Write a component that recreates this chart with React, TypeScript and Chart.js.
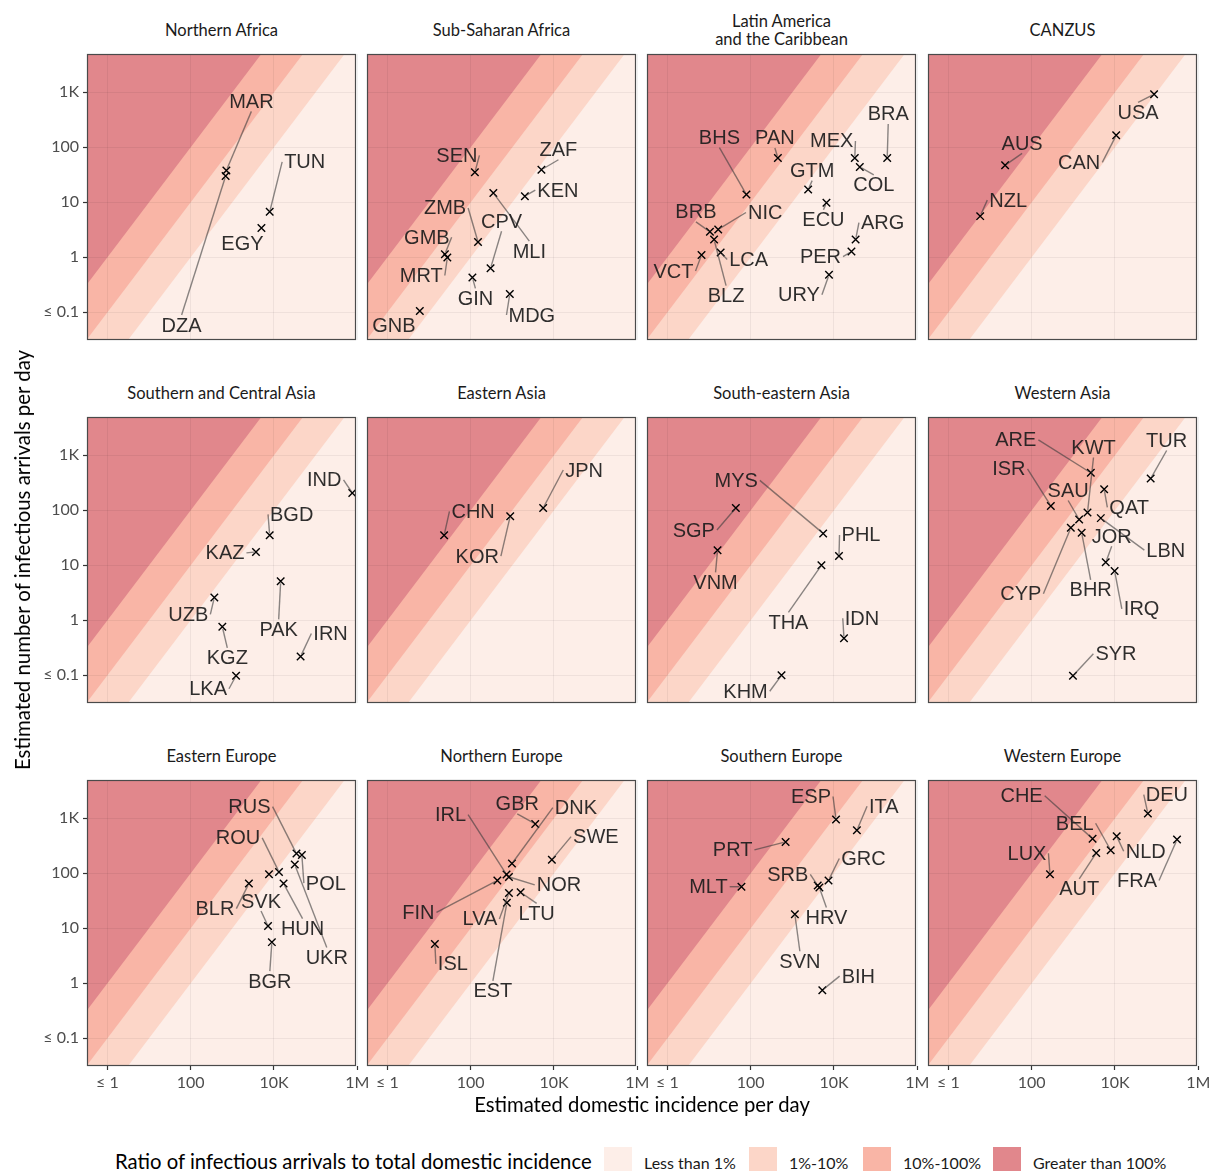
import React, { useEffect, useRef } from 'react';
import { Chart, registerables } from 'chart.js';

Chart.register(...registerables);

// ---------- data ----------
const regionTitles = [
  'Northern Africa', 'Sub-Saharan Africa', 'Latin America\nand the Caribbean', 'CANZUS',
  'Southern and Central Asia', 'Eastern Asia', 'South-eastern Asia', 'Western Asia',
  'Eastern Europe', 'Northern Europe', 'Southern Europe', 'Western Europe',
];

const nafCodes = ['MAR', 'DZA', 'TUN', 'EGY'];
const nafIncidence = [720, 690, 7900, 5000];
const nafArrivals = [38, 30, 6.7, 3.4];

const ssaCodes = ['SEN', 'ZAF', 'KEN', 'MLI', 'CPV', 'ZMB', 'GMB', 'MRT', 'GIN', 'MDG', 'GNB'];
const ssaIncidence = [126, 5000, 2000, 350, 300, 150, 24, 27.5, 110, 870, 6];
const ssaArrivals = [35, 39, 12.9, 14.7, 0.63, 1.9, 1.14, 0.99, 0.43, 0.215, 0.105];

const lacCodes = ['BRA', 'PAN', 'MEX', 'COL', 'GTM', 'BHS', 'ECU', 'ARG', 'PER', 'URY', 'BRB', 'NIC', 'BLZ', 'LCA', 'VCT'];
const lacIncidence = [190000, 450, 31600, 41700, 2400, 79, 6600, 33100, 26300, 7600, 10.5, 16.6, 13.2, 19, 6.6];
const lacArrivals = [64, 64, 64, 44, 17, 13.8, 9.8, 2.1, 1.27, 0.48, 2.9, 3.2, 2.1, 1.22, 1.1];

const cnzCodes = ['USA', 'CAN', 'AUS', 'NZL'];
const cnzIncidence = [87000, 10700, 23, 5.8];
const cnzArrivals = [920, 165, 47, 5.6];

const scaCodes = ['IND', 'BGD', 'KAZ', 'PAK', 'UZB', 'KGZ', 'IRN', 'LKA'];
const scaIncidence = [760000, 7900, 3700, 14500, 370, 575, 43600, 1230];
const scaArrivals = [207, 35, 17.5, 5.1, 2.6, 0.76, 0.22, 0.098];

const easCodes = ['JPN', 'KOR', 'CHN'];
const easIncidence = [5500, 890, 23];
const easArrivals = [110, 78, 35];

const seaCodes = ['MYS', 'SGP', 'VNM', 'PHL', 'THA', 'IDN', 'KHM'];
const seaIncidence = [5500, 44, 16, 13200, 5000, 17400, 550];
const seaArrivals = [38, 110, 18.7, 14.8, 10, 0.47, 0.1];

const wasCodes = ['TUR', 'ARE', 'KWT', 'QAT', 'ISR', 'SAU', 'CYP', 'BHR', 'LBN', 'JOR', 'IRQ', 'SYR'];
const wasIncidence = [72000, 2630, 2190, 5500, 288, 1380, 870, 1585, 4570, 6000, 9800, 980];
const wasArrivals = [378, 480, 91, 241, 120, 68, 48, 39, 72, 11.3, 7.9, 0.098];

const eeuCodes = ['RUS', 'POL', 'UKR', 'CZE', 'ROU', 'HUN', 'BLR', 'SVK', 'BGR'];
const eeuIncidence = [34700, 46800, 31600, 7600, 13200, 17000, 2500, 7200, 8900];
const eeuArrivals = [228, 214, 144, 96, 106, 65, 65, 11, 5.6];

const neuCodes = ['GBR', 'SWE', 'DNK', 'IRL', 'NOR', 'FIN', 'LTU', 'LVA', 'EST', 'ISL'];
const neuIncidence = [3550, 8900, 980, 725, 830, 437, 1585, 830, 740, 13.8];
const neuArrivals = [790, 177, 150, 95, 86, 74, 45, 44, 29, 5.2];

const seuCodes = ['ESP', 'ITA', 'PRT', 'GRC', 'SRB', 'HRV', 'MLT', 'SVN', 'BIH'];
const seuIncidence = [11200, 35500, 690, 7400, 4070, 4470, 60, 1150, 5250];
const seuArrivals = [950, 605, 372, 74, 60, 55, 57, 18, 0.75];

const weuCodes = ['DEU', 'FRA', 'CHE', 'NLD', 'BEL', 'AUT', 'LUX'];
const weuIncidence = [61700, 309000, 2900, 11000, 7900, 3550, 275];
const weuArrivals = [1216, 410, 425, 470, 262, 234, 96];

// label placement (pixel offsets of each label from its point; null = label dropped)
const nafLabelOffsets = [[25, -69], [-44, 149], [35, -50], [-19, 15]];
const ssaLabelOffsets = [[-18, -17], [17, -20], [33, -6], [36, 58], [11, -47], [-33, -34], [-18, -17], [-26, 18], [3, 21], [22, 21], [-26, 14]];
const lacLabelOffsets = [[1, -44], [-3, -20], [-23, -17], [14, 18], [4, -19], [-27, -57], [-3, 17], [27, -17], [-31, 5], [-30, 20], [-14, -20], [47, -17], [12, 56], [28, 7], [-28, 16]];
const cnzLabelOffsets = [[-16, 18], [-37, 27], [17, -22], [28, -16]];
const scaLabelOffsets = [[-28, -13], [22, -21], [-31, 1], [-2, 48], [-26, 17], [5, 31], [30, -23], [-28, 13]];
const easLabelOffsets = [[41, -38], [-33, 40], [29, -24]];
const seaLabelOffsets = [[-87, -53], [-42, 22], [-2, 32], [22, -21], [-33, 57], [18, -20], [-36, 16]];
const wasLabelOffsets = [[16, -38], [-75, -33], [6, -65], [25, 18], [-42, -37], [-11, -29], [-50, 66], [9, 57], [65, 32], [6, -26], [27, 38], [43, -22]];
const eeuLabelOffsets = [[-47, -47], [24, 28], [32, 93], null, [-41, -34], [19, 45], [-34, 25], [-7, -25], [-2, 39]];
const neuLabelOffsets = [[-18, -20], [44, -23], [64, -56], [-56, -60], [50, 8], [-79, 32], [16, 21], [-29, 26], [-14, 88], [18, 20]];
const seuLabelOffsets = [[-25, -23], [27, -24], [-53, 8], [35, -22], [-30, -11], [7, 30], [-33, 0], [5, 47], [36, -14]];
const weuLabelOffsets = [[19, -19], [-40, 41], [-71, -43], [29, 15], [-36, -27], [-17, 36], [-23, -21]];

const bandRatios = [0.01, 0.1, 1];
const bandLabels = ['Less than 1%', '1%-10%', '10%-100%', 'Greater than 100%'];
const bandColors = ['#FDEEE8', '#FCD6C8', '#F9B5A6', '#E1878C'];

const xTickValues = [1, 100, 1e4, 1e6];
const xTickLabels = ['\u2264 1', '100', '10K', '1M'];
const yTickValues = [0.1, 1, 10, 100, 1000];
const yTickLabels = ['\u2264 0.1', '1', '10', '100', '1K'];

const xMin = Math.pow(10, -0.49);
const xMax = Math.pow(10, 5.97);
const yMin = Math.pow(10, -1.504);
const yMax = Math.pow(10, 3.696);

const panels = [
  { codes: nafCodes, x: nafIncidence, y: nafArrivals, off: nafLabelOffsets },
  { codes: ssaCodes, x: ssaIncidence, y: ssaArrivals, off: ssaLabelOffsets },
  { codes: lacCodes, x: lacIncidence, y: lacArrivals, off: lacLabelOffsets },
  { codes: cnzCodes, x: cnzIncidence, y: cnzArrivals, off: cnzLabelOffsets },
  { codes: scaCodes, x: scaIncidence, y: scaArrivals, off: scaLabelOffsets },
  { codes: easCodes, x: easIncidence, y: easArrivals, off: easLabelOffsets },
  { codes: seaCodes, x: seaIncidence, y: seaArrivals, off: seaLabelOffsets },
  { codes: wasCodes, x: wasIncidence, y: wasArrivals, off: wasLabelOffsets },
  { codes: eeuCodes, x: eeuIncidence, y: eeuArrivals, off: eeuLabelOffsets },
  { codes: neuCodes, x: neuIncidence, y: neuArrivals, off: neuLabelOffsets },
  { codes: seuCodes, x: seuIncidence, y: seuArrivals, off: seuLabelOffsets },
  { codes: weuCodes, x: weuIncidence, y: weuArrivals, off: weuLabelOffsets },
];

// ---------- layout ----------
const colLefts = [87, 367, 647, 928];
const rowTops = [54, 417, 780];
const PW = 269;
const PH = 286;
const Y_AXIS_W = 60;
const X_AXIS_H = 30;
const PAD_R = 14;
const LABEL_FONT = '20px "Liberation Sans", Arial, sans-serif';
const TICK_FONT = { family: 'Lato', size: 16 };

const bandPlugin = {
  id: 'bands',
  beforeDraw(chart: any) {
    const { ctx, chartArea: a } = chart;
    const xs = chart.scales.x;
    const ys = chart.scales.y;
    ctx.save();
    ctx.beginPath();
    ctx.rect(a.left, a.top, a.right - a.left, a.bottom - a.top);
    ctx.clip();
    ctx.fillStyle = bandColors[0];
    ctx.fillRect(a.left, a.top, a.right - a.left, a.bottom - a.top);
    bandRatios.forEach((r, i) => {
      const pl = ys.getPixelForValue(r * xs.min);
      const pr = ys.getPixelForValue(r * xs.max);
      ctx.beginPath();
      ctx.moveTo(a.left, pl);
      ctx.lineTo(a.right, pr);
      ctx.lineTo(a.right, a.top - 5000);
      ctx.lineTo(a.left, a.top - 5000);
      ctx.closePath();
      ctx.fillStyle = bandColors[i + 1];
      ctx.fill();
    });
    ctx.restore();
  },
};

const framePlugin = {
  id: 'frame',
  afterDraw(chart: any) {
    const { ctx, chartArea: a } = chart;
    ctx.save();
    ctx.strokeStyle = '#4a4a4a';
    ctx.lineWidth = 1.2;
    ctx.strokeRect(a.left + 0.5, a.top + 0.5, a.right - a.left - 1, a.bottom - a.top - 1);
    ctx.restore();
  },
};

function makeLabelPlugin(codes: string[], offsets: any[]) {
  return {
    id: 'repelLabels',
    afterDatasetsDraw(chart: any) {
      const ctx = chart.ctx;
      const meta = chart.getDatasetMeta(0);
      ctx.save();
      ctx.font = LABEL_FONT;
      const items: any[] = [];
      codes.forEach((code, i) => {
        const off = offsets[i];
        const el = meta.data[i];
        if (!off || !el) return;
        const px = el.x;
        const py = el.y;
        const lx = px + off[0];
        const ly = py + off[1];
        const w = ctx.measureText(code).width;
        const hw = w / 2 + 2;
        const hh = 10;
        items.push({ code, px, py, lx, ly, hw, hh });
      });
      // segments
      ctx.strokeStyle = 'rgba(60,60,60,0.6)';
      ctx.lineWidth = 1.4;
      items.forEach((it) => {
        const cx = Math.max(it.lx - it.hw, Math.min(it.px, it.lx + it.hw));
        const cy = Math.max(it.ly - it.hh, Math.min(it.py, it.ly + it.hh));
        const gap = Math.hypot(it.px - cx, it.py - cy);
        if (gap < 6.5) return;
        const cands = [
          [it.lx - it.hw, it.ly], [it.lx + it.hw, it.ly],
          [it.lx, it.ly - it.hh], [it.lx, it.ly + it.hh],
        ];
        let best = cands[0];
        let bd = Infinity;
        cands.forEach((c) => {
          const d = Math.hypot(c[0] - it.px, c[1] - it.py);
          if (d < bd) { bd = d; best = c; }
        });
        const vx = best[0] - it.px;
        const vy = best[1] - it.py;
        const len = Math.hypot(vx, vy);
        const sx = it.px + (vx / len) * 2;
        const sy = it.py + (vy / len) * 2;
        ctx.beginPath();
        ctx.moveTo(sx, sy);
        ctx.lineTo(best[0], best[1]);
        ctx.stroke();
      });
      // texts
      ctx.fillStyle = 'rgba(28,28,28,0.92)';
      ctx.textAlign = 'center';
      ctx.textBaseline = 'middle';
      items.forEach((it) => {
        ctx.fillText(it.code, it.lx, it.ly + 1);
      });
      ctx.restore();
    },
  };
}

function zeroPad(s: any) {
  s.paddingTop = 0;
  s.paddingBottom = 0;
  s.paddingLeft = 0;
  s.paddingRight = 0;
}

function Panel({ idx }: { idx: number }) {
  const ref = useRef<HTMLCanvasElement>(null);
  const r = Math.floor(idx / 4);
  const c = idx % 4;
  const showY = c === 0;
  const showX = r === 2;
  const extraL = showY ? Y_AXIS_W : 2;
  const extraB = showX ? X_AXIS_H : 2;
  const left = colLefts[c] - extraL;
  const top = rowTops[r] - 2;
  const width = PW + extraL + PAD_R;
  const height = PH + 2 + extraB;

  useEffect(() => {
    const p = panels[idx];
    const pts = p.x.map((v, i) => ({ x: v, y: p.y[i] }));
    const chart = new Chart(ref.current as HTMLCanvasElement, {
      type: 'scatter',
      data: {
        datasets: [
          {
            data: pts,
            pointStyle: 'crossRot',
            pointRadius: 5.3,
            pointHoverRadius: 5.3,
            pointBorderColor: '#000',
            pointBorderWidth: 1.4,
            pointBackgroundColor: 'rgba(0,0,0,0)',
          } as any,
        ],
      },
      options: {
        responsive: false,
        animation: false,
        devicePixelRatio: 1,
        events: [],
        layout: {
          autoPadding: false,
          padding: { left: showY ? 0 : 2, right: PAD_R, top: 2, bottom: showX ? 0 : 2 },
        } as any,
        plugins: { legend: { display: false }, tooltip: { enabled: false }, title: { display: false } },
        scales: {
          x: {
            type: 'logarithmic',
            position: 'bottom',
            min: xMin,
            max: xMax,
            bounds: 'data',
            afterBuildTicks: (s: any) => { s.ticks = xTickValues.map((v) => ({ value: v })); },
            afterFit: (s: any) => { s.height = showX ? X_AXIS_H : 0; zeroPad(s); },
            ticks: {
              display: showX,
              autoSkip: false,
              maxRotation: 0,
              minRotation: 0,
              padding: 3,
              color: '#4d4d4d',
              font: TICK_FONT,
              callback: (_v: any, i: number) => xTickLabels[i],
            },
            grid: {
              color: 'rgba(0,0,0,0.055)',
              lineWidth: 1,
              drawTicks: showX,
              tickLength: 4,
              tickColor: '#333',
              tickWidth: 1.2,
            },
            border: { display: false },
          } as any,
          y: {
            type: 'logarithmic',
            position: 'left',
            min: yMin,
            max: yMax,
            bounds: 'data',
            afterBuildTicks: (s: any) => { s.ticks = yTickValues.map((v) => ({ value: v })); },
            afterFit: (s: any) => { s.width = showY ? Y_AXIS_W : 0; zeroPad(s); },
            ticks: {
              display: showY,
              autoSkip: false,
              padding: 4,
              color: '#4d4d4d',
              font: TICK_FONT,
              callback: (_v: any, i: number) => yTickLabels[i],
            },
            grid: {
              color: 'rgba(0,0,0,0.055)',
              lineWidth: 1,
              drawTicks: showY,
              tickLength: 4,
              tickColor: '#333',
              tickWidth: 1.2,
            },
            border: { display: false },
          } as any,
        },
      },
      plugins: [bandPlugin, makeLabelPlugin(p.codes, p.off), framePlugin],
    });
    return () => chart.destroy();
  }, [idx]);

  return (
    <canvas
      ref={ref}
      width={width}
      height={height}
      style={{ position: 'absolute', left, top, width, height }}
    />
  );
}

function PanelTitle({ idx }: { idx: number }) {
  const r = Math.floor(idx / 4);
  const c = idx % 4;
  const text = regionTitles[idx];
  const lines = text.split('\n').length;
  const lh = 18;
  return (
    <div
      style={{
        position: 'absolute',
        left: colLefts[c],
        width: PW,
        top: rowTops[r] - 24 - (lines * lh) / 2,
        lineHeight: `${lh}px`,
        fontSize: 16.5,
        color: '#1a1a1a',
        textAlign: 'center',
        whiteSpace: 'pre-line',
      }}
    >
      {text}
    </div>
  );
}

const legendSwatchX = [604, 749, 863, 993];

export default function App() {
  return (
    <div
      style={{
        position: 'absolute',
        left: 0,
        top: 0,
        width: 1209,
        height: 1171,
        overflow: 'hidden',
        background: '#fff',
        fontFamily: 'Lato, "Open Sans", sans-serif',
      }}
    >
      {panels.map((_, i) => (
        <Panel key={`p${i}`} idx={i} />
      ))}
      {panels.map((_, i) => (
        <PanelTitle key={`t${i}`} idx={i} />
      ))}
      <div
        style={{
          position: 'absolute',
          left: 22,
          top: 560,
          transform: 'translate(-50%, -50%) rotate(-90deg)',
          whiteSpace: 'nowrap',
          fontSize: 20.4,
          color: '#000',
        }}
      >
        Estimated number of infectious arrivals per day
      </div>
      <div
        style={{
          position: 'absolute',
          left: 642,
          top: 1104,
          transform: 'translate(-50%, -50%)',
          whiteSpace: 'nowrap',
          fontSize: 20.3,
          color: '#000',
        }}
      >
        Estimated domestic incidence per day
      </div>
      <div
        style={{
          position: 'absolute',
          left: 115,
          top: 1161,
          transform: 'translateY(-50%)',
          whiteSpace: 'nowrap',
          fontSize: 20.3,
          color: '#000',
        }}
      >
        Ratio of infectious arrivals to total domestic incidence
      </div>
      {bandLabels.map((lab, i) => (
        <React.Fragment key={`l${i}`}>
          <div
            style={{
              position: 'absolute',
              left: legendSwatchX[i],
              top: 1147,
              width: 28,
              height: 28,
              background: bandColors[i],
            }}
          />
          <div
            style={{
              position: 'absolute',
              left: legendSwatchX[i] + 40,
              top: 1162,
              transform: 'translateY(-50%)',
              whiteSpace: 'nowrap',
              fontSize: 16,
              color: '#1a1a1a',
            }}
          >
            {lab}
          </div>
        </React.Fragment>
      ))}
    </div>
  );
}
